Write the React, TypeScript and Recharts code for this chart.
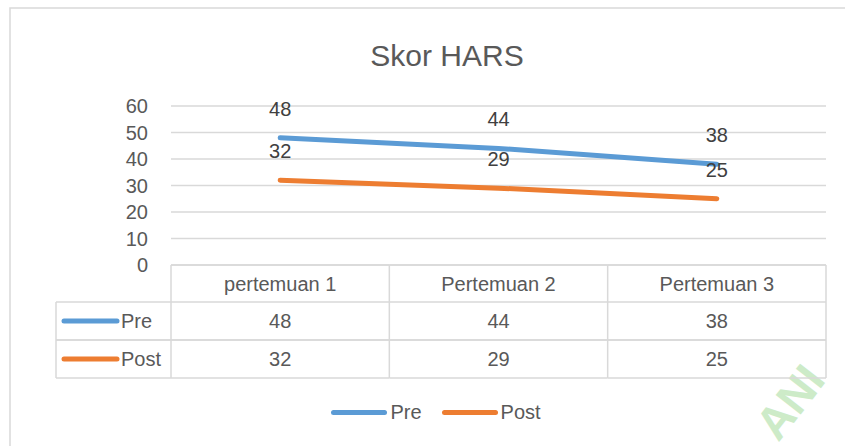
import { LineChart, Line, XAxis, YAxis, CartesianGrid, LabelList } from 'recharts';

const categories = ['pertemuan 1', 'Pertemuan 2', 'Pertemuan 3'];
const preValues = [48, 44, 38];
const postValues = [32, 29, 25];
const yTicks = [0, 10, 20, 30, 40, 50, 60];

const seriesList = [
  { key: 'Pre', values: preValues, color: '#5B9BD5' },
  { key: 'Post', values: postValues, color: '#ED7D31' },
];

const data = categories.map((name, i) => ({
  name,
  Pre: preValues[i],
  Post: postValues[i],
}));

const FONT = '"Liberation Sans", Arial, sans-serif';
const TEXT = '#595959';
const BORDER = '#d9d9d9';
const HEADER_H = 37;
const ROW_H = 38;

function TableTick(props: any) {
  const { x, y, payload, index, width } = props;
  const colW = (width || 655) / categories.length;
  const left = x - colW / 2;
  const right = x + colW / 2;
  const tableH = HEADER_H + ROW_H * seriesList.length;
  const rowLabelLeft = 56;
  return (
    <g fontFamily={FONT} fontSize={20} fill={TEXT}>
      <line x1={left} x2={right} y1={y} y2={y} stroke={BORDER} strokeWidth={1.5} />
      {index === 0 && (
        <line x1={left} x2={left} y1={y} y2={y + tableH} stroke={BORDER} strokeWidth={1.5} />
      )}
      <line x1={right} x2={right} y1={y} y2={y + tableH} stroke={BORDER} strokeWidth={1.5} />
      <text x={x} y={y + HEADER_H / 2} textAnchor="middle" dominantBaseline="central">
        {payload.value}
      </text>
      {seriesList.map((s, r) => {
        const top = y + HEADER_H + r * ROW_H;
        const x1 = index === 0 ? rowLabelLeft : left;
        return (
          <g key={s.key}>
            <line x1={x1} x2={right} y1={top} y2={top} stroke={BORDER} strokeWidth={1.5} />
            <line x1={x1} x2={right} y1={top + ROW_H} y2={top + ROW_H} stroke={BORDER} strokeWidth={1.5} />
            <text x={x} y={top + ROW_H / 2} textAnchor="middle" dominantBaseline="central">
              {s.values[index]}
            </text>
            {index === 0 && (
              <g>
                <line x1={rowLabelLeft} x2={rowLabelLeft} y1={top} y2={top + ROW_H} stroke={BORDER} strokeWidth={1.5} />
                <line x1={64} x2={117} y1={top + ROW_H / 2} y2={top + ROW_H / 2} stroke={s.color} strokeWidth={5} strokeLinecap="round" />
                <text x={121} y={top + ROW_H / 2} dominantBaseline="central">{s.key}</text>
              </g>
            )}
          </g>
        );
      })}
    </g>
  );
}

function YTick(props: any) {
  const { x, y, payload } = props;
  return (
    <text x={x} y={y} textAnchor="end" dominantBaseline="central" fontFamily={FONT} fontSize={20} fill={TEXT}>
      {payload.value}
    </text>
  );
}

export default function App() {
  return (
    <div style={{ position: 'absolute', left: 0, top: 0, width: 845, height: 446, background: '#fff', overflow: 'hidden' }}>
      <svg width={845} height={446} style={{ position: 'absolute', left: 0, top: 0 }}>
        <rect x={10} y={8} width={900} height={900} fill="#fff" stroke={BORDER} strokeWidth={1.5} />
        <text x={447} y={55} textAnchor="middle" dominantBaseline="central" fontFamily={FONT} fontSize={30} fill={TEXT}>
          Skor HARS
        </text>
        <text
          x={790}
          y={402}
          textAnchor="middle"
          dominantBaseline="central"
          fontFamily={FONT}
          fontWeight="bold"
          fontSize={46}
          fill="#cdebc8"
          transform="rotate(-52 790 402)"
        >
          ANI
        </text>
      </svg>
      <div style={{ position: 'absolute', left: 0, top: 0 }}>
        <LineChart width={845} height={446} data={data} margin={{ top: 106, right: 19, left: 0, bottom: 61 }}>
          <CartesianGrid vertical={false} stroke={BORDER} strokeWidth={1.5} />
          <XAxis
            dataKey="name"
            scale="band"
            height={120}
            axisLine={false}
            tickLine={false}
            tickSize={0}
            tickMargin={0}
            interval={0}
            tick={<TableTick />}
          />
          <YAxis
            width={171}
            domain={[0, 60]}
            ticks={yTicks}
            axisLine={false}
            tickLine={false}
            tickSize={0}
            tickMargin={23}
            tick={<YTick />}
          />
          {seriesList.map((s) => (
            <Line
              key={s.key}
              dataKey={s.key}
              stroke={s.color}
              strokeWidth={5}
              strokeLinecap="round"
              dot={false}
              activeDot={false}
              isAnimationActive={false}
            >
              <LabelList dataKey={s.key} position="top" offset={22} fill="#404040" fontSize={20} fontFamily={FONT} />
            </Line>
          ))}
        </LineChart>
      </div>
      <div
        style={{
          position: 'absolute',
          left: 0,
          top: 401,
          width: 872,
          display: 'flex',
          justifyContent: 'center',
          fontFamily: FONT,
          fontSize: 20,
          color: TEXT,
        }}
      >
        {seriesList.map((s) => (
          <div key={s.key} style={{ display: 'flex', alignItems: 'center', margin: '0 10px' }}>
            <div style={{ width: 56, height: 5, borderRadius: 3, background: s.color, marginRight: 3 }} />
            <span>{s.key}</span>
          </div>
        ))}
      </div>
    </div>
  );
}
